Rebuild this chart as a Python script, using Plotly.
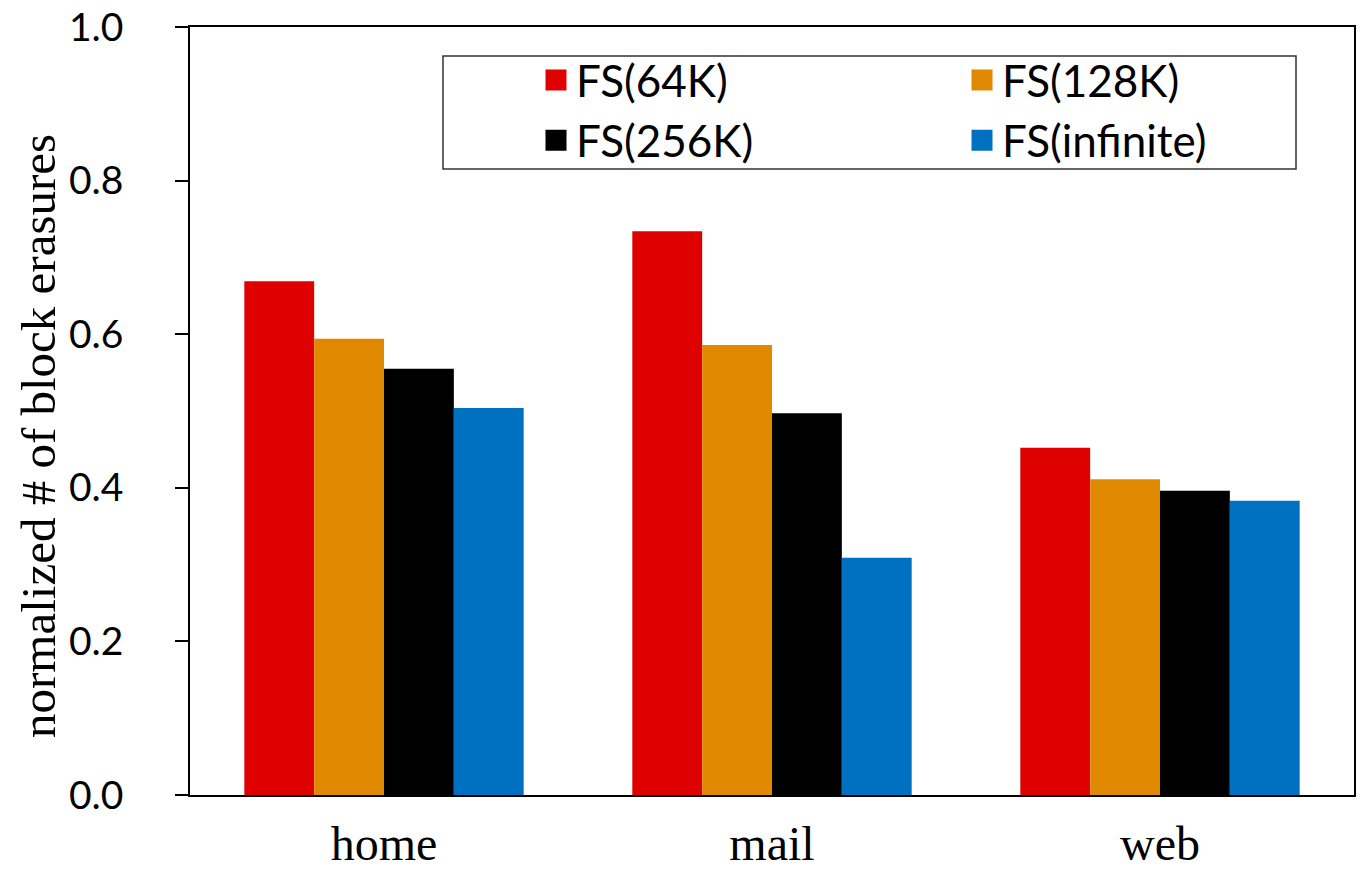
import plotly.graph_objects as go

categories = ["home", "mail", "web"]
series_names = ["FS(64K)", "FS(128K)", "FS(256K)", "FS(infinite)"]
fs_64k = [0.669, 0.734, 0.452]
fs_128k = [0.594, 0.586, 0.411]
fs_256k = [0.555, 0.497, 0.396]
fs_inf = [0.504, 0.309, 0.383]
colors = ["#DF0000", "#E08800", "#000000", "#0070C0"]
y_ticks = [0.0, 0.2, 0.4, 0.6, 0.8, 1.0]
y_title = "normalized # of block erasures"

values = [fs_64k, fs_128k, fs_256k, fs_inf]
legend_ids = ["legend", "legend2", "legend", "legend2"]

fig = go.Figure()
for name, vals, col in zip(series_names, values, colors):
    fig.add_trace(go.Bar(x=categories, y=vals, name=name, marker_color=col,
                         marker_line_width=0, showlegend=False, legendgroup=name))
for name, col, lg in zip(series_names, colors, legend_ids):
    fig.add_trace(go.Scatter(x=[None], y=[None], mode="markers", name=name,
                             legendgroup=name, legend=lg,
                             marker=dict(symbol="square", size=16, color=col,
                                         line=dict(color=col, width=5))))

# the page body adds an 8px offset; positions below are page pixels
OFF = 8
W, H = 1364 - OFF, 869 - OFF
L, R, T, B = 190 - OFF, 10, 27 - OFF, 74
pw = W - L - R
ph = H - T - B

def px_x(p):
    return (p - OFF - L) / pw

def px_y(p):
    return (H - B - (p - OFF)) / ph

fig.add_shape(type="rect", xref="paper", yref="paper",
              x0=px_x(443), x1=px_x(1296), y0=px_y(169), y1=px_y(56),
              line=dict(color="#333333", width=1.5), fillcolor="rgba(0,0,0,0)")

fig.add_annotation(text=y_title, xref="paper", yref="paper",
                   x=px_x(39), y=px_y(436), xanchor="center", yanchor="middle",
                   textangle=-90, showarrow=False,
                   font=dict(family="Liberation Serif", size=49, color="black"))

leg_common = dict(orientation="v", xanchor="left", yanchor="top",
                  font=dict(family="Lato", size=44, color="black"),
                  bgcolor="rgba(0,0,0,0)", borderwidth=0, itemwidth=30,
                  tracegroupgap=0)

fig.update_layout(
    width=W, height=H,
    margin=dict(l=L, r=R, t=T, b=B, autoexpand=False),
    paper_bgcolor="white", plot_bgcolor="white",
    barmode="group", bargap=0.28, bargroupgap=0,
    showlegend=True,
    legend=dict(x=px_x(536), y=px_y(45), **leg_common),
    legend2=dict(x=px_x(962), y=px_y(45), **leg_common),
    xaxis=dict(showline=True, linecolor="black", linewidth=1.5, mirror=True,
               ticks="", tickfont=dict(family="Liberation Serif", size=48, color="black"),
               ticklabelstandoff=6, ticklabeloverflow="allow",
               showgrid=False, automargin=False),
    yaxis=dict(range=[0, 1], tickvals=y_ticks, tickformat=".1f",
               showline=True, linecolor="black", linewidth=1.5, mirror=True,
               ticks="outside", ticklen=13, tickwidth=1.5, tickcolor="black",
               tickfont=dict(family="Lato", size=39, color="black"),
               ticklabelstandoff=44, ticklabeloverflow="allow",
               showgrid=False, zeroline=False, automargin=False),
)

fig.write_html("out.html")
